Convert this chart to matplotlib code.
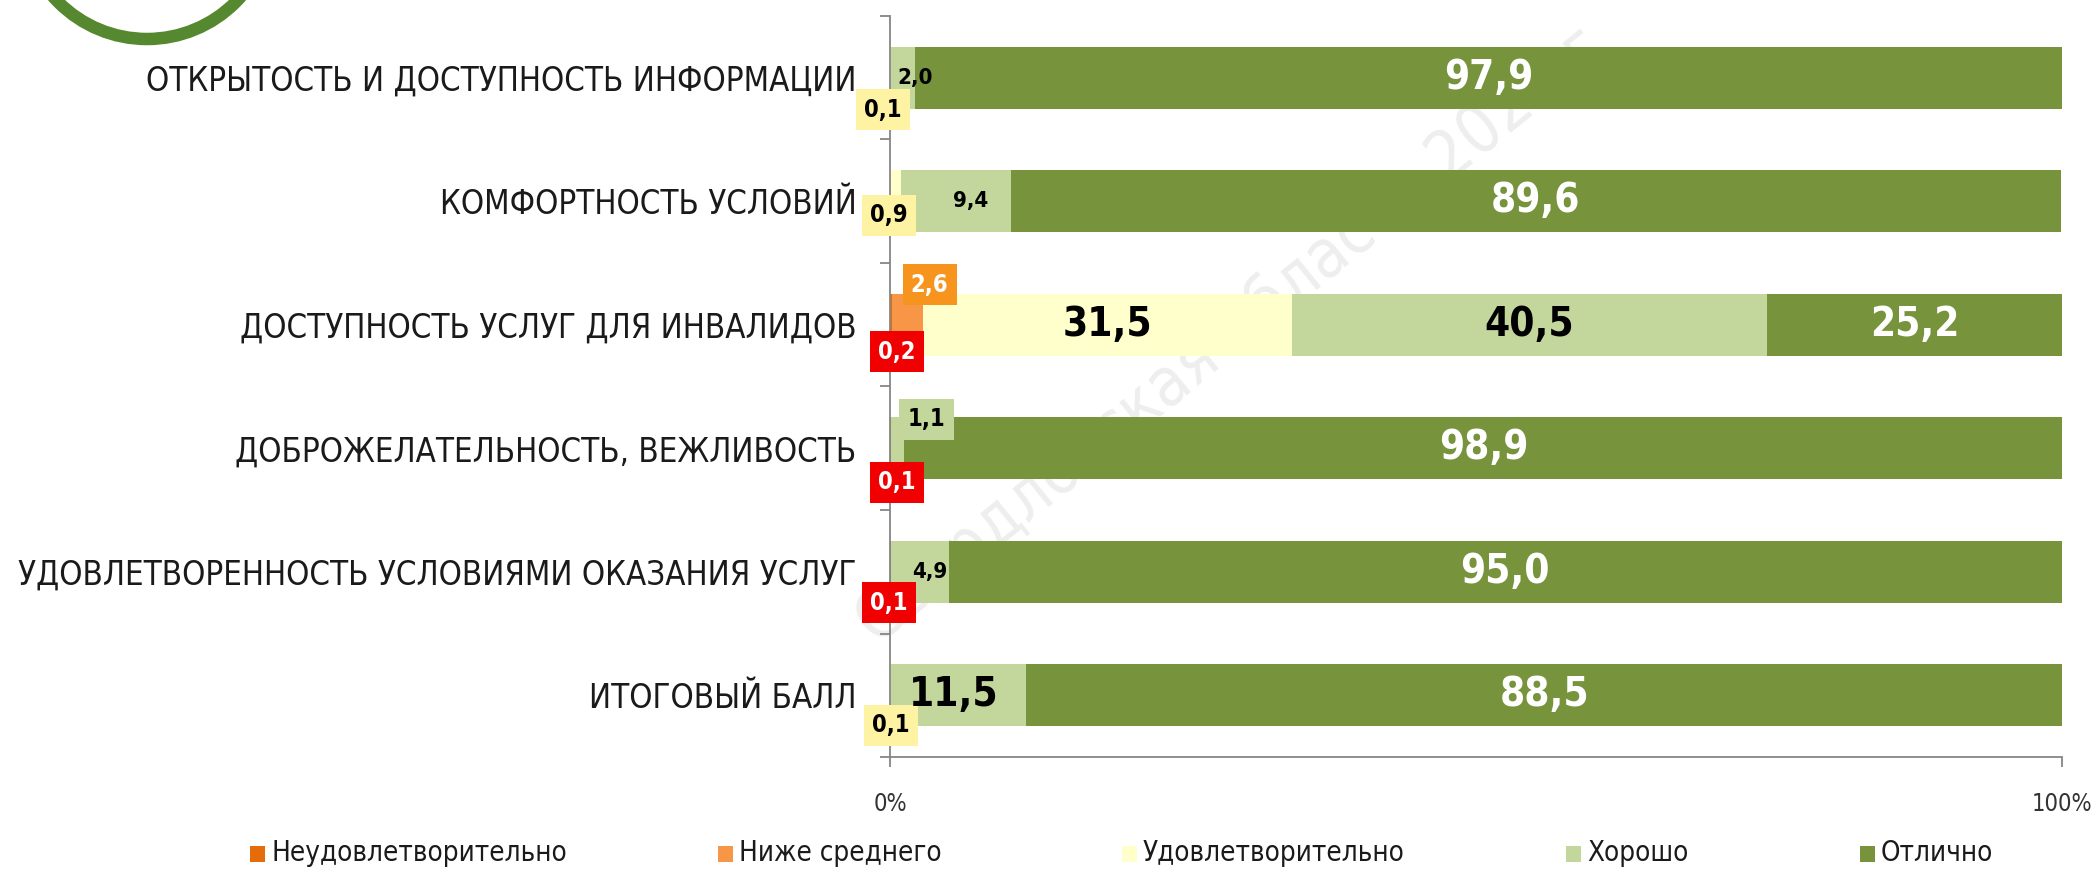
import matplotlib
matplotlib.use('Agg')
import matplotlib.pyplot as plt
import matplotlib.font_manager as fm
from matplotlib.patches import Rectangle, Ellipse
from matplotlib.transforms import IdentityTransform
import numpy as np

# narrow font if one is installed (the original uses Arial Narrow)
narrow = [f for f in fm.fontManager.ttflist
          if any(k in (f.name + ' ' + f.fname).lower() for k in ('narrow', 'condensed'))
          and 'sans' in f.name.lower()]
if narrow:
    plt.rcParams['font.family'] = [narrow[0].name, 'Liberation Sans', 'DejaVu Sans']
    plt.rcParams['font.stretch'] = narrow[0].stretch
else:
    plt.rcParams['font.family'] = ['Liberation Sans', 'DejaVu Sans']

categories = [
    'ОТКРЫТОСТЬ И ДОСТУПНОСТЬ ИНФОРМАЦИИ',
    'КОМФОРТНОСТЬ УСЛОВИЙ',
    'ДОСТУПНОСТЬ УСЛУГ ДЛЯ ИНВАЛИДОВ',
    'ДОБРОЖЕЛАТЕЛЬНОСТЬ, ВЕЖЛИВОСТЬ',
    'УДОВЛЕТВОРЕННОСТЬ УСЛОВИЯМИ ОКАЗАНИЯ УСЛУГ',
    'ИТОГОВЫЙ БАЛЛ',
]
series_names = ['Неудовлетворительно', 'Ниже среднего', 'Удовлетворительно', 'Хорошо', 'Отлично']
unsat = [0, 0, 0.2, 0.1, 0.1, 0]
below = [0, 0, 2.6, 0, 0, 0]
satisf = [0.1, 0.9, 31.5, 0, 0, 0.1]
good = [2.0, 9.4, 40.5, 1.1, 4.9, 11.5]
excellent = [97.9, 89.6, 25.2, 98.9, 95.0, 88.5]
xtick_labels = ['0%', '100%']

colors = ['#E46C0A', '#F79646', '#FFFFCC', '#C3D69B', '#77933C']
box_colors = ['#F00000', '#F7941E', '#FDF3A3', '#C3D69B', '#77933C']

# label offsets (pixels) for the small values that sit in boxes / shifted
box_offsets = {
    (0, 2): (-8, -32), (1, 2): (-6, -14), (2, 0): (6, -27), (2, 1): (22, 40),
    (3, 0): (6, -34), (3, 3): (29, 29), (4, 0): (-2, -31), (5, 2): (0, -30),
}
text_offsets = {(0, 3): (12, 0), (1, 3): (15, 0), (4, 3): (10, 0), (5, 3): (-5, 0)}

data = [unsat, below, satisf, good, excellent]

W, H = 2100, 872
fig = plt.figure(figsize=(W / 100, H / 100), dpi=100)
ax = fig.add_axes([890 / W, 1 - 757 / H, (2062 - 890) / W, (757 - 16) / H])
ax.patch.set_alpha(0)

y = np.arange(len(categories))
left = np.zeros(len(categories))
for j, vals in enumerate(data):
    vals = np.array(vals)
    ax.barh(y, vals, left=left, height=0.5, color=colors[j], edgecolor='none', zorder=2)
    for i, v in enumerate(vals):
        if v <= 0:
            continue
        xc = left[i] + v / 2
        txt = f'{v:.1f}'.replace('.', ',')
        if (i, j) in box_offsets:
            tc = 'white' if j in (0, 1) else 'black'
            ax.annotate(txt, (xc, i), xytext=box_offsets[(i, j)], textcoords='offset pixels',
                        ha='center', va='center', fontsize=17, fontweight='bold', color=tc,
                        bbox=dict(boxstyle='square,pad=0.35', fc=box_colors[j], ec='none'),
                        zorder=5, annotation_clip=False)
        else:
            big = v >= 11
            tc = 'white' if j == 4 else 'black'
            ax.annotate(txt, (xc, i), xytext=text_offsets.get((i, j), (0, 0)),
                        textcoords='offset pixels', ha='center', va='center',
                        fontsize=29 if big else 16, fontweight='bold', color=tc, zorder=5)
    left = left + vals

ax.set_xlim(0, 100)
ax.set_ylim(len(categories) - 0.5, -0.5)
for s in ['top', 'right']:
    ax.spines[s].set_visible(False)
for s in ['left', 'bottom']:
    ax.spines[s].set_color('#868686')
    ax.spines[s].set_linewidth(1.3)

ax.set_yticks(y)
ax.set_yticklabels(categories, fontsize=27, color='#1a1a1a')
ax.set_yticks(np.arange(-0.5, len(categories), 1), minor=True)
ax.tick_params(axis='y', which='major', length=0, pad=24)
ax.tick_params(axis='y', which='minor', length=7, width=1.3, color='#868686')
ax.set_xticks([0, 100])
ax.set_xticklabels(xtick_labels, fontsize=17, color='#333333')
ax.tick_params(axis='x', length=7, width=1.3, color='#868686', pad=18)

# watermark
ax.text(1230 / W, 1 - 336 / H, 'Свердловская область 2021 г', transform=fig.transFigure,
        rotation=39, ha='center', va='center', fontsize=48, color='#EEEEEE', zorder=0.5)

# logo arc in the top-left corner (pixel coordinates, y from the bottom)
r = 125
fig.add_artist(Ellipse((147, H + 86), 2 * r, 2 * r, transform=IdentityTransform(),
                       fill=False, ec='#55882F', lw=9))

# legend
leg_x = [250, 718, 1122, 1566, 1860]
leg_texts = []
for name, c, lx in zip(series_names, colors, leg_x):
    fig.add_artist(Rectangle((lx / W, 1 - 862 / H), 15 / W, 16 / H, transform=fig.transFigure,
                             fc=c, ec='none'))
    leg_texts.append(fig.text((lx + 21) / W, 1 - 853 / H, name, fontsize=21, va='center',
                              ha='left', color='#1a1a1a'))

# fit the longest category label to the width it has in the original (~840 px)
fig.canvas.draw()
rend = fig.canvas.get_renderer()
widest = max(t.get_window_extent(rend).width for t in ax.get_yticklabels())
k = min(1.0, 840 / widest)
ax.tick_params(axis='y', which='major', labelsize=27 * k)
# legend text: "Неудовлетворительно" is ~295 px wide in the original
lw0 = leg_texts[0].get_window_extent(rend).width
for t in leg_texts:
    t.set_fontsize(21 * min(1.0, 295 / lw0))

fig.savefig('out.png', dpi=100)
